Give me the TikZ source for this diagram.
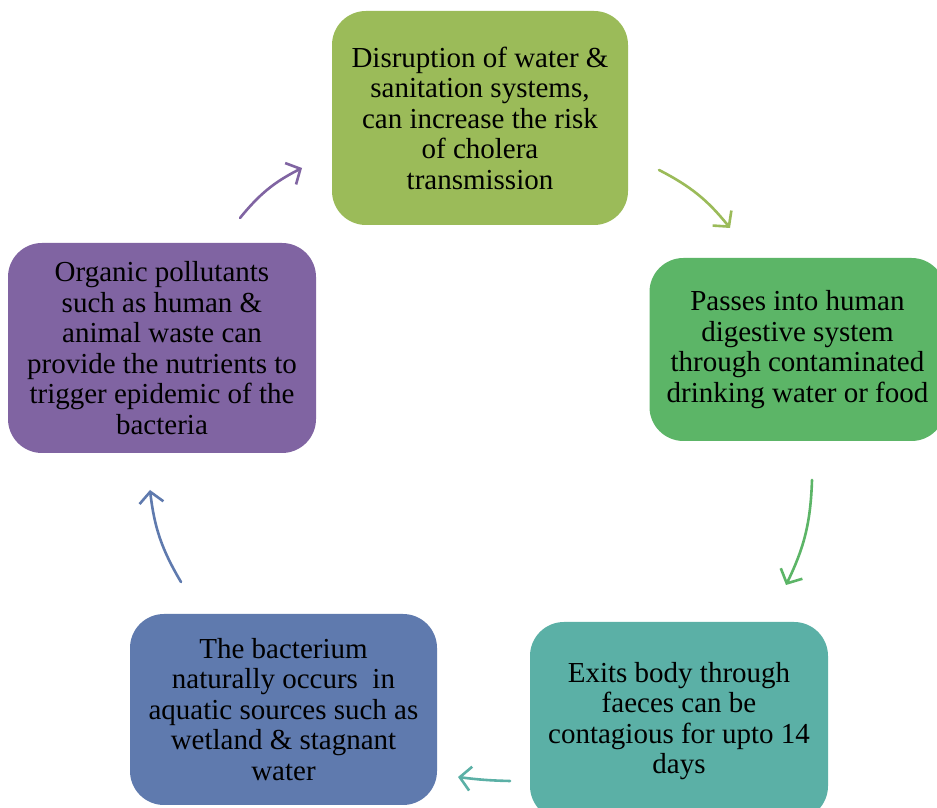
\documentclass[tikz,border=0pt]{standalone}
\usepackage{fontspec}
\setmainfont{Liberation Serif}
\usetikzlibrary{arrows.meta}
\definecolor{cOlive}{HTML}{9BBB59}
\definecolor{cGreen}{HTML}{5CB567}
\definecolor{cTeal}{HTML}{5BB0A6}
\definecolor{cBlue}{HTML}{5F7AAE}
\definecolor{cPurple}{HTML}{8064A2}
\tikzset{
  cyclebox/.style={rectangle, rounded corners=34pt, draw=none, align=center,
    inner sep=0pt, text=black, font=\fontsize{29}{30.5}\selectfont},
  cyclearrow/.style={line width=2.6pt, line cap=round, line join=round,
    -{Straight Barb[length=11pt,width=24pt,line width=2.6pt]}}
}
\begin{document}
\begin{tikzpicture}[x=1pt,y=1pt]
\useasboundingbox (0,0) rectangle (937,808);
\clip (0,0) rectangle (937,808);
\fill[white] (0,0) rectangle (937,808);
% boxes
\node[cyclebox, fill=cOlive, minimum width=296pt, minimum height=214pt] (top) at (480,690)
  {Disruption of water \&\\ sanitation systems,\\ can increase the risk\\ of cholera\\ transmission};
\node[cyclebox, fill=cGreen, minimum width=296pt, minimum height=183pt] (right) at (797.5,458.5)
  {Passes into human\\ digestive system\\ through contaminated\\ drinking water or food};
\node[cyclebox, fill=cTeal, minimum width=298pt, minimum height=198pt] (bright) at (679,87)
  {Exits body through\\ faeces can be\\ contagious for upto 14\\ days};
\node[cyclebox, fill=cBlue, minimum width=307pt, minimum height=191pt] (bleft) at (283.5,98.5)
  {The bacterium\\ naturally occurs\ \ in\\ aquatic sources such as\\ wetland \& stagnant\\ water};
\node[cyclebox, fill=cPurple, minimum width=308pt, minimum height=210pt] (left) at (162,460)
  {Organic pollutants\\ such as human \&\\ animal waste can\\ provide the nutrients to\\ trigger epidemic of the\\ bacteria};
% arrow end points
\coordinate (a1s) at (240,590); \coordinate (a1e) at (302,640);
\coordinate (a2s) at (659,638); \coordinate (a2e) at (730,580);
\coordinate (a3s) at (812,328); \coordinate (a3e) at (786,223);
\coordinate (a4s) at (510,27);  \coordinate (a4e) at (458,31);
\coordinate (a5s) at (181,226); \coordinate (a5e) at (150,318);
\draw[cyclearrow, cPurple] (a1s) to[bend left=12] (a1e);
\draw[cyclearrow, cOlive] (a2s) to[bend left=12] (a2e);
\draw[cyclearrow, cGreen] (a3s) to[bend left=12] (a3e);
\draw[cyclearrow, cTeal] (a4s) to[bend left=3] (a4e);
\draw[cyclearrow, cBlue] (a5s) to[bend left=12] (a5e);
\end{tikzpicture}
\end{document}
